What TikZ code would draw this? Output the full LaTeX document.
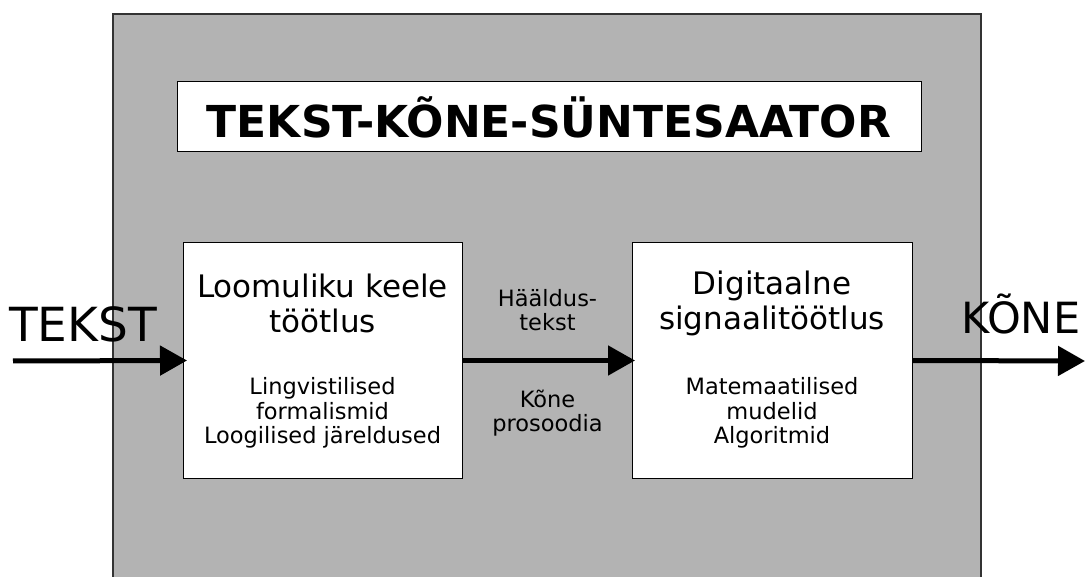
\documentclass[tikz,border=0pt]{standalone}
\usepackage{fontspec}
\setmainfont{DejaVu Sans}
\usetikzlibrary{arrows.meta}
\definecolor{panelgrey}{HTML}{B3B3B3}
\definecolor{rimgrey}{HTML}{333333}
\tikzset{
  whitebox/.style={draw=black, line width=1pt, fill=white, inner sep=0pt, outer sep=0pt},
  flow/.style={line width=5pt, -{Triangle[length=27pt,width=29pt]}},
  headtxt/.style={align=center, font=\fontsize{31}{35}\selectfont, inner sep=0pt},
  smalltxt/.style={align=center, font=\fontsize{22.5}{24.5}\selectfont, inner sep=0pt},
  iotxt/.style={font=\fontsize{47}{47}\selectfont, inner sep=0pt, anchor=base west}
}
\begin{document}
\begin{tikzpicture}[x=1pt, y=-1pt]
  \clip (0,0) rectangle (1085,577);
  \fill[white] (0,0) rectangle (1085,577);

  % grey panel of the synthesiser
  \draw[fill=panelgrey, draw=rimgrey, line width=1.5pt] (113,14) rectangle (981,600);

  % title
  \node[whitebox, minimum width=744pt, minimum height=70pt] (title) at (549,117)
    {\fontsize{44}{44}\selectfont\bfseries TEKST-KÕNE-SÜNTESAATOR};

  % processing stages
  \node[whitebox, minimum width=279pt, minimum height=235pt] (nlp) at (322.5,360.5) {};
  \node[whitebox, minimum width=280pt, minimum height=235pt] (dsp) at (772,360.5) {};

  \node[headtxt] (nlphead) at (322.5,303) {Loomuliku keele\\töötlus};
  \node[smalltxt] (nlpbody) at (322.5,413) {Lingvistilised\\formalismid\\Loogilised järeldused};
  \node[headtxt] (dsphead) at (772,303) {Digitaalne\\signaalitöötlus};
  \node[smalltxt] (dspbody) at (772,413) {Matemaatilised\\mudelid\\Algoritmid};

  % intermediate data
  \node[smalltxt] (mid1) at (547.5,310) {Hääldus-\\tekst};
  \node[smalltxt] (mid2) at (547.5,413) {Kõne\\prosoodia};

  % input and output
  \coordinate (in) at (13,361);
  \coordinate (out) at (1085,361);
  \node[iotxt] (tekst) at (9,342) {TEKST};
  \node[iotxt, font=\fontsize{43}{43}\selectfont] (kone) at (961,334) {KÕNE};

  \draw[flow] (in) -- ([xshift=4pt]nlp.west);
  \draw[flow] (nlp.east) -- ([xshift=3pt]dsp.west);
  \draw[flow] (dsp.east) -- (out);
\end{tikzpicture}
\end{document}
